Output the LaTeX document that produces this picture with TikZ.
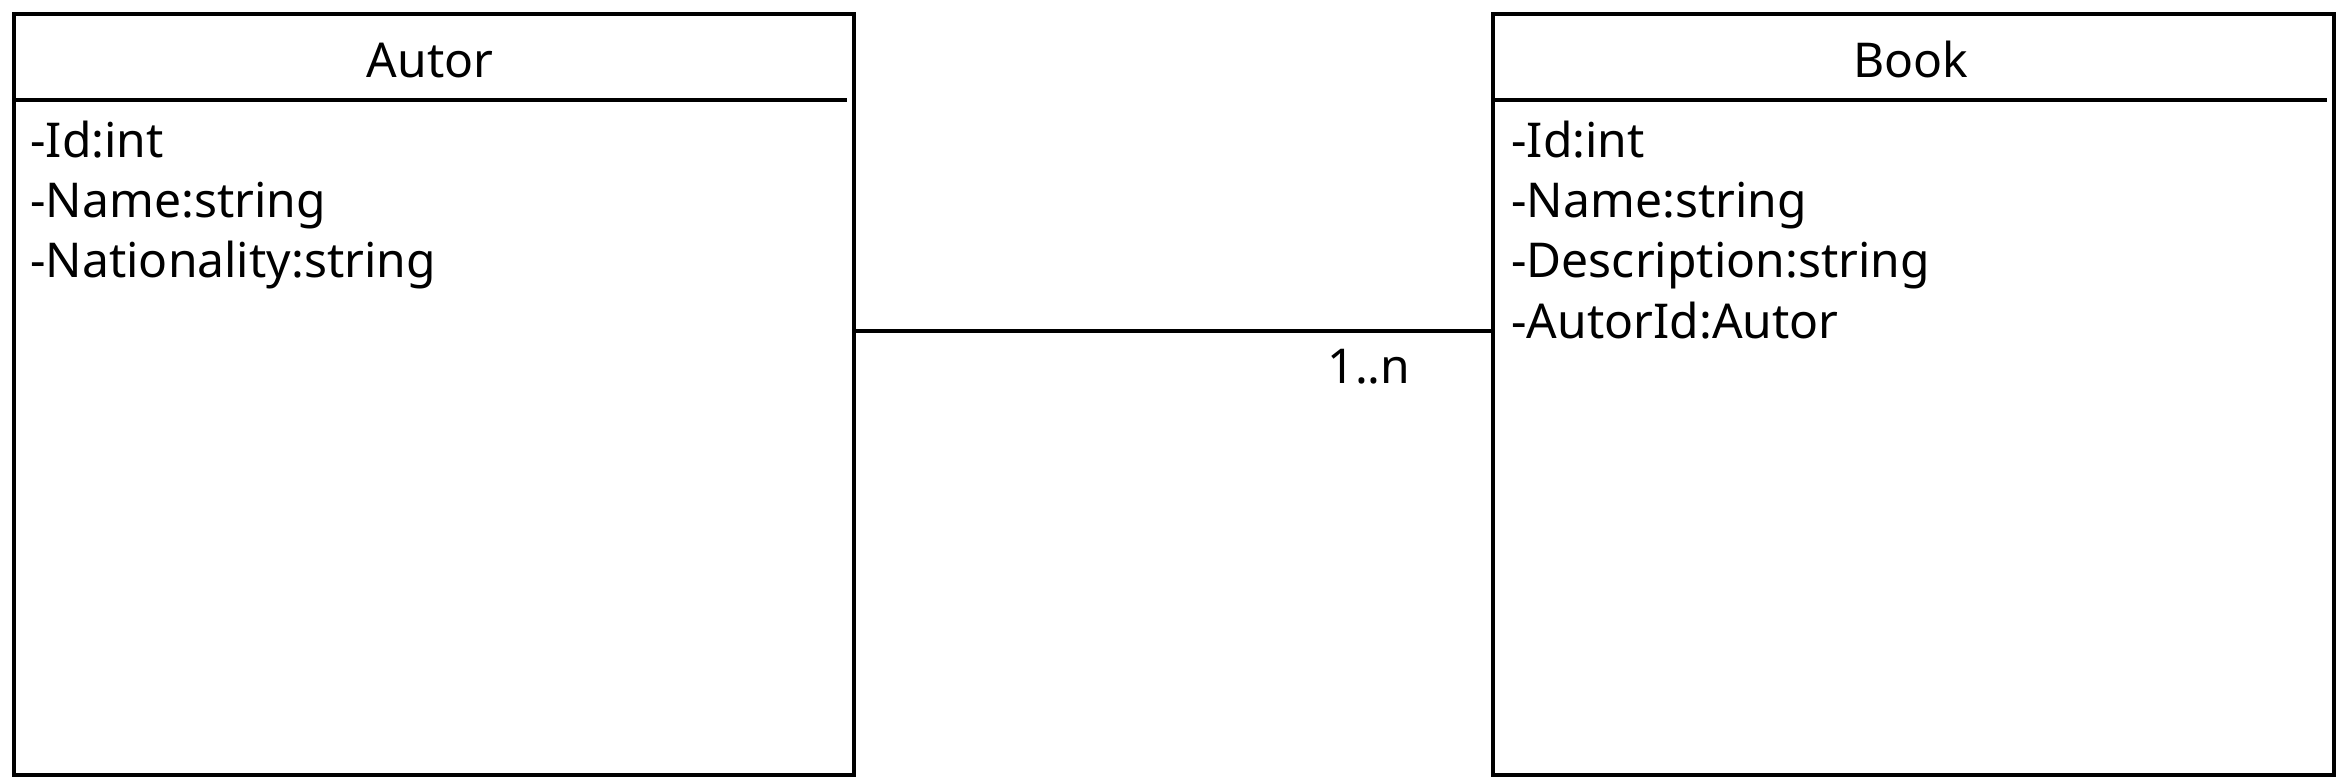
\documentclass[tikz,border=0pt]{standalone}
\usepackage{fontspec}
\setmainfont{Noto Sans}
\begin{document}
\begin{tikzpicture}[x=0.5pt,y=-0.5pt,
  box/.style={draw=black,line width=1.9pt},
  sep/.style={draw=black,line width=1.9pt},
  conn/.style={draw=black,line width=1.9pt},
  title/.style={font=\fontsize{24}{28}\selectfont,inner sep=0pt,text height=17pt,text depth=0pt,anchor=center},
  attr/.style={font=\fontsize{24}{28}\selectfont,inner sep=0pt,text height=17pt,text depth=0pt,anchor=west},
  mult/.style={font=\fontsize{24}{28}\selectfont,inner sep=0pt,text height=17pt,text depth=0pt,anchor=center}]
\useasboundingbox (0,0) rectangle (2340,780);
\fill[white] (0,0) rectangle (2340,780);
% Autor
\node[box,minimum width=840pt*0.5,minimum height=761pt*0.5,anchor=north west,inner sep=0pt] (autor) at (12,12) {};
\draw[sep] (12,100) -- (847,100);
\node[title] (autort) at (430,61) {Autor};
\node[attr] (a1) at (30,141) {-Id:int};
\node[attr] (a2) at (30,201) {-Name:string};
\node[attr] (a3) at (30,261) {-Nationality:string};
% Book
\node[box,minimum width=841pt*0.5,minimum height=761pt*0.5,anchor=north west,inner sep=0pt] (book) at (1491,12) {};
\draw[sep] (1491,100) -- (2327,100);
\node[title] (bookt) at (1911,61) {Book};
\node[attr] (b1) at (1511,141) {-Id:int};
\node[attr] (b2) at (1511,201) {-Name:string};
\node[attr] (b3) at (1511,261) {-Description:string};
\node[attr] (b4) at (1511,322) {-AutorId:Autor};
% connector
\coordinate (ca) at (autor.east |- 0,331);
\coordinate (cb) at (book.west |- 0,331);
\draw[conn] (ca) -- (cb);
\node[mult] (m) at (1369,367) {1..n};
\end{tikzpicture}
\end{document}
